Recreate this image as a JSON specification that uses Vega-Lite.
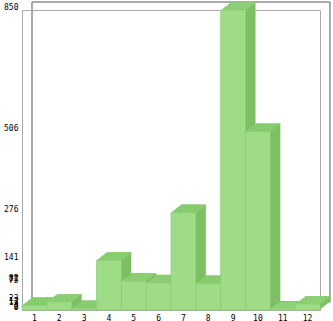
{
  "$schema": "https://vega.github.io/schema/vega-lite/v6.json",
  "width": 298,
  "height": 300,
  "autosize": "none",
  "padding": {"left": 22, "top": 10, "right": 13, "bottom": 11},
  "background": "white",
  "config": {"view": {"stroke": "#aaaaaa", "strokeWidth": 1}},
  "data": {"values": [
    {"m": "1", "v": 13}, {"m": "2", "v": 23}, {"m": "3", "v": 4}, {"m": "4", "v": 141},
    {"m": "5", "v": 82}, {"m": "6", "v": 77}, {"m": "7", "v": 276}, {"m": "8", "v": 75},
    {"m": "9", "v": 850}, {"m": "10", "v": 506}, {"m": "11", "v": 2}, {"m": "12", "v": 17}
  ]},
  "encoding": {
    "x": {"field": "m", "type": "ordinal", "sort": null,
      "scale": {"paddingInner": 0, "paddingOuter": 0},
      "axis": {"title": null, "labelAngle": 0, "ticks": false, "labelPadding": 4, "domainColor": "#aaaaaa",
        "labelFont": "DejaVu Sans Mono", "labelFontSize": 8, "labelColor": "#000000"}},
    "y": {"field": "v", "type": "quantitative",
      "scale": {"domain": [0, 850], "nice": false, "zero": true},
      "axis": {"title": null, "grid": false, "ticks": false, "labelPadding": 4, "labelOffset": -3, "domainColor": "#aaaaaa",
        "values": [0, 2, 4, 13, 17, 23, 75, 77, 82, 141, 276, 506, 850], "labelOverlap": false,
        "labelFont": "DejaVu Sans Mono", "labelFontSize": 8, "labelColor": "#000000"}}
  },
  "layer": [
    {"mark": {"type": "rule", "color": "#aaaaaa", "yOffset": -8, "clip": false},
     "encoding": {"x": {"value": 10}, "x2": {"value": 308}, "y": {"datum": 850}}},
    {"mark": {"type": "rule", "color": "#aaaaaa", "yOffset": -8, "clip": false},
     "encoding": {"x": {"value": 10}, "x2": {"value": 308}, "y": {"datum": 0}}},
    {"mark": {"type": "rule", "color": "#aaaaaa", "yOffset": -8, "y2Offset": -8, "clip": false},
     "encoding": {"x": {"value": 10}, "y": {"datum": 0}, "y2": {"datum": 850}}},
    {"mark": {"type": "rule", "color": "#aaaaaa", "yOffset": -8, "y2Offset": -8, "clip": false},
     "encoding": {"x": {"value": 308}, "y": {"datum": 0}, "y2": {"datum": 850}}},
    {"mark": {"type": "bar", "color": "#7cc063", "xOffset": 1.25, "yOffset": -1, "y2Offset": -1}, "encoding": {"y2": {"datum": 0}}},
    {"mark": {"type": "bar", "color": "#7cc063", "xOffset": 2.5, "yOffset": -2, "y2Offset": -2}, "encoding": {"y2": {"datum": 0}}},
    {"mark": {"type": "bar", "color": "#7cc063", "xOffset": 3.75, "yOffset": -3, "y2Offset": -3}, "encoding": {"y2": {"datum": 0}}},
    {"mark": {"type": "bar", "color": "#7cc063", "xOffset": 5, "yOffset": -4, "y2Offset": -4}, "encoding": {"y2": {"datum": 0}}},
    {"mark": {"type": "bar", "color": "#7cc063", "xOffset": 6.25, "yOffset": -5, "y2Offset": -5}, "encoding": {"y2": {"datum": 0}}},
    {"mark": {"type": "bar", "color": "#7cc063", "xOffset": 7.5, "yOffset": -6, "y2Offset": -6}, "encoding": {"y2": {"datum": 0}}},
    {"mark": {"type": "bar", "color": "#7cc063", "xOffset": 8.75, "yOffset": -7, "y2Offset": -7}, "encoding": {"y2": {"datum": 0}}},
    {"mark": {"type": "bar", "color": "#7cc063", "xOffset": 10, "yOffset": -8, "y2Offset": -8}, "encoding": {"y2": {"datum": 0}}},
    {"mark": {"type": "bar", "color": "#8ccf74", "xOffset": 1.25, "yOffset": -1, "y2Offset": 0}, "encoding": {"y2": {"field": "v"}}},
    {"mark": {"type": "bar", "color": "#8ccf74", "xOffset": 2.5, "yOffset": -2, "y2Offset": -1}, "encoding": {"y2": {"field": "v"}}},
    {"mark": {"type": "bar", "color": "#8ccf74", "xOffset": 3.75, "yOffset": -3, "y2Offset": -2}, "encoding": {"y2": {"field": "v"}}},
    {"mark": {"type": "bar", "color": "#8ccf74", "xOffset": 5, "yOffset": -4, "y2Offset": -3}, "encoding": {"y2": {"field": "v"}}},
    {"mark": {"type": "bar", "color": "#8ccf74", "xOffset": 6.25, "yOffset": -5, "y2Offset": -4}, "encoding": {"y2": {"field": "v"}}},
    {"mark": {"type": "bar", "color": "#8ccf74", "xOffset": 7.5, "yOffset": -6, "y2Offset": -5}, "encoding": {"y2": {"field": "v"}}},
    {"mark": {"type": "bar", "color": "#8ccf74", "xOffset": 8.75, "yOffset": -7, "y2Offset": -6}, "encoding": {"y2": {"field": "v"}}},
    {"mark": {"type": "bar", "color": "#8ccf74", "xOffset": 10, "yOffset": -8, "y2Offset": -7}, "encoding": {"y2": {"field": "v"}}},
    {"mark": {"type": "bar", "color": "#9edc88", "stroke": "#8dcd78", "strokeWidth": 0.7}, "encoding": {"y2": {"datum": 0}}}
  ]
}
